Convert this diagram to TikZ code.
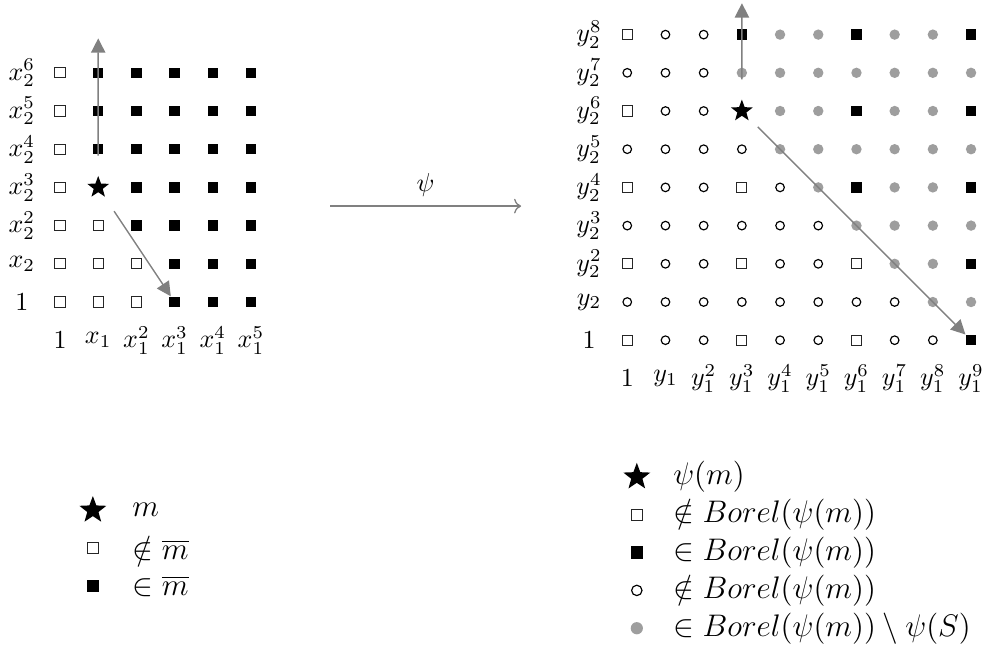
\documentclass[tikz,border=0pt]{standalone}
\usepackage{amsmath,amsfonts,amssymb}
\usepackage{tikz}
\usetikzlibrary{arrows.meta}
\usetikzlibrary{positioning}
\usetikzlibrary{shapes.geometric}
\usepackage{xcolor}
\definecolor{ColArrow}{RGB}{128,128,128}
\definecolor{ColDot}{RGB}{158,158,158}
\tikzstyle{SqOpen}=[rectangle,draw=black!85,line width=.35pt,fill=white,inner sep=0pt,minimum size=3.9pt]
\tikzstyle{SqFull}=[rectangle,fill=black,inner sep=0pt,minimum size=4pt]
\tikzstyle{CircOpen}=[circle,draw=black,line width=.45pt,inner sep=0pt,minimum size=3.3pt]
\tikzstyle{DotGrey}=[circle,fill=ColDot,inner sep=0pt,minimum size=4pt]
\tikzstyle{StarMark}=[star,star points=5,star point ratio=2.4,fill=black,inner sep=0pt,
outer sep=2.7pt,minimum size=8.8pt]
\tikzstyle{AxisLabel}=[inner sep=1pt]
\tikzstyle{LegendText}=[inner sep=0pt,font=\large]
\tikzstyle{GridArrow}=[ColArrow,line width=.55pt,-{Triangle[length=5.5pt,width=5.5pt]}]
\tikzstyle{MapArrow}=[ColArrow,line width=.5pt,->]

\begin{document}
\begin{tikzpicture}[scale=.5165]
        \useasboundingbox (-1.571,-9.058) rectangle (24.215,7.906);
        \node[SqOpen](l00)at(0,0){}; \node[SqOpen](l10)at(1,0){}; \node[SqOpen](l20)at(2,0){}; \node[SqFull](l30)at(3,0){}; \node[SqFull](l40)at(4,0){}; \node[SqFull](l50)at(5,0){};
        \node[SqOpen](l01)at(0,1){}; \node[SqOpen](l11)at(1,1){}; \node[SqOpen](l21)at(2,1){}; \node[SqFull](l31)at(3,1){}; \node[SqFull](l41)at(4,1){}; \node[SqFull](l51)at(5,1){};
        \node[SqOpen](l02)at(0,2){}; \node[SqOpen](l12)at(1,2){}; \node[SqFull](l22)at(2,2){}; \node[SqFull](l32)at(3,2){}; \node[SqFull](l42)at(4,2){}; \node[SqFull](l52)at(5,2){};
        \node[SqOpen](l03)at(0,3){}; \node[StarMark](l13)at(1,3){}; \node[SqFull](l23)at(2,3){}; \node[SqFull](l33)at(3,3){}; \node[SqFull](l43)at(4,3){}; \node[SqFull](l53)at(5,3){};
        \node[SqOpen](l04)at(0,4){}; \node[SqFull](l14)at(1,4){}; \node[SqFull](l24)at(2,4){}; \node[SqFull](l34)at(3,4){}; \node[SqFull](l44)at(4,4){}; \node[SqFull](l54)at(5,4){};
        \node[SqOpen](l05)at(0,5){}; \node[SqFull](l15)at(1,5){}; \node[SqFull](l25)at(2,5){}; \node[SqFull](l35)at(3,5){}; \node[SqFull](l45)at(4,5){}; \node[SqFull](l55)at(5,5){};
        \node[SqOpen](l06)at(0,6){}; \node[SqFull](l16)at(1,6){}; \node[SqFull](l26)at(2,6){}; \node[SqFull](l36)at(3,6){}; \node[SqFull](l46)at(4,6){}; \node[SqFull](l56)at(5,6){};
        \node[AxisLabel](ly0)at(-1,0){$1$};
        \node[AxisLabel](ly1)at(-1,1){$x_2$};
        \node[AxisLabel](ly2)at(-1,2){$x_2^2$};
        \node[AxisLabel](ly3)at(-1,3){$x_2^3$};
        \node[AxisLabel](ly4)at(-1,4){$x_2^4$};
        \node[AxisLabel](ly5)at(-1,5){$x_2^5$};
        \node[AxisLabel](ly6)at(-1,6){$x_2^6$};
        \node[AxisLabel](lx0)at(0,-1){$1$};
        \node[AxisLabel](lx1)at(1,-1){$x_1$};
        \node[AxisLabel](lx2)at(2,-1){$x_1^2$};
        \node[AxisLabel](lx3)at(3,-1){$x_1^3$};
        \node[AxisLabel](lx4)at(4,-1){$x_1^4$};
        \node[AxisLabel](lx5)at(5,-1){$x_1^5$};
        \coordinate(lTop)at(1,6.9);
        \draw[GridArrow](l13)--(lTop);
        \draw[GridArrow](l13)--(l30);

        \coordinate(psiA)at(7.07,2.51);
        \coordinate(psiB)at(12.07,2.51);
        \draw[MapArrow](psiA)--(psiB)node[midway,above,text=black]{$\psi$};

        \node[SqOpen](r00)at(14.85,-1){}; \node[CircOpen](r10)at(15.85,-1){}; \node[CircOpen](r20)at(16.85,-1){}; \node[SqOpen](r30)at(17.85,-1){}; \node[CircOpen](r40)at(18.85,-1){}; \node[CircOpen](r50)at(19.85,-1){}; \node[SqOpen](r60)at(20.85,-1){}; \node[CircOpen](r70)at(21.85,-1){}; \node[CircOpen](r80)at(22.85,-1){}; \node[SqFull](r90)at(23.85,-1){};
        \node[CircOpen](r01)at(14.85,0){}; \node[CircOpen](r11)at(15.85,0){}; \node[CircOpen](r21)at(16.85,0){}; \node[CircOpen](r31)at(17.85,0){}; \node[CircOpen](r41)at(18.85,0){}; \node[CircOpen](r51)at(19.85,0){}; \node[CircOpen](r61)at(20.85,0){}; \node[CircOpen](r71)at(21.85,0){}; \node[DotGrey](r81)at(22.85,0){}; \node[DotGrey](r91)at(23.85,0){};
        \node[SqOpen](r02)at(14.85,1){}; \node[CircOpen](r12)at(15.85,1){}; \node[CircOpen](r22)at(16.85,1){}; \node[SqOpen](r32)at(17.85,1){}; \node[CircOpen](r42)at(18.85,1){}; \node[CircOpen](r52)at(19.85,1){}; \node[SqOpen](r62)at(20.85,1){}; \node[DotGrey](r72)at(21.85,1){}; \node[DotGrey](r82)at(22.85,1){}; \node[SqFull](r92)at(23.85,1){};
        \node[CircOpen](r03)at(14.85,2){}; \node[CircOpen](r13)at(15.85,2){}; \node[CircOpen](r23)at(16.85,2){}; \node[CircOpen](r33)at(17.85,2){}; \node[CircOpen](r43)at(18.85,2){}; \node[CircOpen](r53)at(19.85,2){}; \node[DotGrey](r63)at(20.85,2){}; \node[DotGrey](r73)at(21.85,2){}; \node[DotGrey](r83)at(22.85,2){}; \node[DotGrey](r93)at(23.85,2){};
        \node[SqOpen](r04)at(14.85,3){}; \node[CircOpen](r14)at(15.85,3){}; \node[CircOpen](r24)at(16.85,3){}; \node[SqOpen](r34)at(17.85,3){}; \node[CircOpen](r44)at(18.85,3){}; \node[DotGrey](r54)at(19.85,3){}; \node[SqFull](r64)at(20.85,3){}; \node[DotGrey](r74)at(21.85,3){}; \node[DotGrey](r84)at(22.85,3){}; \node[SqFull](r94)at(23.85,3){};
        \node[CircOpen](r05)at(14.85,4){}; \node[CircOpen](r15)at(15.85,4){}; \node[CircOpen](r25)at(16.85,4){}; \node[CircOpen](r35)at(17.85,4){}; \node[DotGrey](r45)at(18.85,4){}; \node[DotGrey](r55)at(19.85,4){}; \node[DotGrey](r65)at(20.85,4){}; \node[DotGrey](r75)at(21.85,4){}; \node[DotGrey](r85)at(22.85,4){}; \node[DotGrey](r95)at(23.85,4){};
        \node[SqOpen](r06)at(14.85,5){}; \node[CircOpen](r16)at(15.85,5){}; \node[CircOpen](r26)at(16.85,5){}; \node[StarMark](r36)at(17.85,5){}; \node[DotGrey](r46)at(18.85,5){}; \node[DotGrey](r56)at(19.85,5){}; \node[SqFull](r66)at(20.85,5){}; \node[DotGrey](r76)at(21.85,5){}; \node[DotGrey](r86)at(22.85,5){}; \node[SqFull](r96)at(23.85,5){};
        \node[CircOpen](r07)at(14.85,6){}; \node[CircOpen](r17)at(15.85,6){}; \node[CircOpen](r27)at(16.85,6){}; \node[DotGrey](r37)at(17.85,6){}; \node[DotGrey](r47)at(18.85,6){}; \node[DotGrey](r57)at(19.85,6){}; \node[DotGrey](r67)at(20.85,6){}; \node[DotGrey](r77)at(21.85,6){}; \node[DotGrey](r87)at(22.85,6){}; \node[DotGrey](r97)at(23.85,6){};
        \node[SqOpen](r08)at(14.85,7){}; \node[CircOpen](r18)at(15.85,7){}; \node[CircOpen](r28)at(16.85,7){}; \node[SqFull](r38)at(17.85,7){}; \node[DotGrey](r48)at(18.85,7){}; \node[DotGrey](r58)at(19.85,7){}; \node[SqFull](r68)at(20.85,7){}; \node[DotGrey](r78)at(21.85,7){}; \node[DotGrey](r88)at(22.85,7){}; \node[SqFull](r98)at(23.85,7){};
        \node[AxisLabel](ry0)at(13.85,-1){$1$};
        \node[AxisLabel](ry1)at(13.85,0){$y_2$};
        \node[AxisLabel](ry2)at(13.85,1){$y_2^2$};
        \node[AxisLabel](ry3)at(13.85,2){$y_2^3$};
        \node[AxisLabel](ry4)at(13.85,3){$y_2^4$};
        \node[AxisLabel](ry5)at(13.85,4){$y_2^5$};
        \node[AxisLabel](ry6)at(13.85,5){$y_2^6$};
        \node[AxisLabel](ry7)at(13.85,6){$y_2^7$};
        \node[AxisLabel](ry8)at(13.85,7){$y_2^8$};
        \node[AxisLabel](rx0)at(14.85,-2){$1$};
        \node[AxisLabel](rx1)at(15.85,-2){$y_1$};
        \node[AxisLabel](rx2)at(16.85,-2){$y_1^2$};
        \node[AxisLabel](rx3)at(17.85,-2){$y_1^3$};
        \node[AxisLabel](rx4)at(18.85,-2){$y_1^4$};
        \node[AxisLabel](rx5)at(19.85,-2){$y_1^5$};
        \node[AxisLabel](rx6)at(20.85,-2){$y_1^6$};
        \node[AxisLabel](rx7)at(21.85,-2){$y_1^7$};
        \node[AxisLabel](rx8)at(22.85,-2){$y_1^8$};
        \node[AxisLabel](rx9)at(23.85,-2){$y_1^9$};
        \coordinate(rTop)at(17.85,7.82);
        \draw[GridArrow](r36)--(rTop);
        \draw[GridArrow](r36)--(r90);

        \node[StarMark,minimum size=10.9pt](lk1)at(0.86,-5.45){};
        \node[SqOpen,minimum size=4.4pt](lk2)at(0.86,-6.44){};
        \node[SqFull,minimum size=4.7pt](lk3)at(0.86,-7.43){};
        \node[LegendText,right=15pt of lk1.center](lt1){$m$};
        \node[LegendText,right=15pt of lk2.center](lt2){$\notin \overline{m}$};
        \node[LegendText,right=15pt of lk3.center](lt3){$\in \overline{m}$};

        \node[StarMark,minimum size=10.9pt](rk1)at(15.10,-4.58){};
        \node[SqOpen,minimum size=4.4pt](rk2)at(15.10,-5.57){};
        \node[SqFull,minimum size=4.7pt](rk3)at(15.10,-6.56){};
        \node[CircOpen,minimum size=4pt](rk4)at(15.10,-7.55){};
        \node[DotGrey,minimum size=4.7pt](rk5)at(15.10,-8.54){};
        \node[LegendText,right=13.8pt of rk1.center](rt1){$\psi(m)$};
        \node[LegendText,right=13.8pt of rk2.center](rt2){$\notin Borel(\psi(m))$};
        \node[LegendText,right=13.8pt of rk3.center](rt3){$\in Borel(\psi(m))$};
        \node[LegendText,right=13.8pt of rk4.center](rt4){$\notin Borel(\psi(m))$};
        \node[LegendText,right=13.8pt of rk5.center](rt5){$\in Borel(\psi(m)) \setminus \psi(S)$};
    \end{tikzpicture}
\end{document}
